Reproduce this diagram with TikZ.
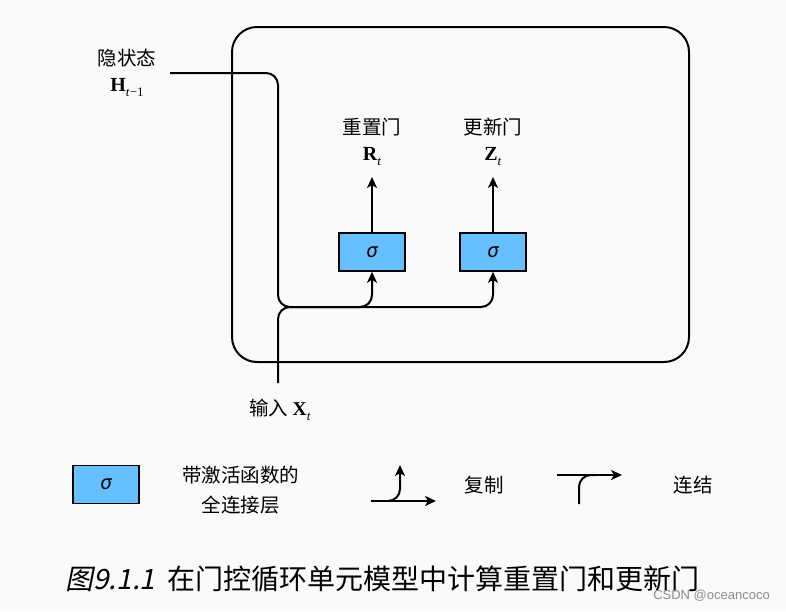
\documentclass[tikz,border=0pt]{standalone}
\usepackage{fontspec}
\setmainfont{Liberation Serif}
\newfontfamily\cjk{Noto Sans CJK SC}
\newfontfamily\cjkit[FakeSlant=0.2]{Noto Sans CJK SC}
\newfontfamily\sig{Noto Sans}
\newfontfamily\wmfont{Liberation Sans}
\usetikzlibrary{arrows.meta}
\definecolor{bgc}{HTML}{FAFAFA}
\definecolor{gatec}{HTML}{66BFFF}
\newcommand\vsub[2]{{\rmfamily\textbf{#1}\raisebox{-5pt}{\fontsize{13}{13}\selectfont #2}}}
\begin{document}
\begin{tikzpicture}[x=1pt,y=-1pt,
  wire/.style={line width=2pt, black},
  arr/.style={wire,-{Stealth[length=11pt,width=10pt,inset=3pt]}},
  gate/.style={draw, line width=1.6pt, fill=gatec, minimum width=66pt, minimum height=38pt, inner sep=0pt, font=\sig\itshape\fontsize{20}{20}\selectfont},
  cn/.style={font=\cjk\fontsize{19.5}{30}\selectfont, inner sep=0pt},
  vn/.style={font=\rmfamily\fontsize{20}{22}\selectfont, inner sep=0pt}]
\fill[bgc] (0,0) rectangle (786,611);
\useasboundingbox (0,0) rectangle (786,611);
% cell frame
\node[draw, line width=2pt, rounded corners=25pt, minimum width=457pt, minimum height=335pt, inner sep=0pt] (cell) at (460.5,194.5) {};
% gates
\node[gate] (R) at (372,252) {σ};
\node[gate] (Z) at (493,252) {σ};
\node[cn] (Rlab) at (372,127) {重置门};
\node[vn] (Rsym) at (372,157) {\vsub{R}{\textit{t}}};
\node[cn] (Zlab) at (493,127) {更新门};
\node[vn] (Zsym) at (493,157) {\vsub{Z}{\textit{t}}};
\coordinate (Rtip) at (372,177);
\coordinate (Ztip) at (493,177);
\draw[arr] (R.north) -- (Rtip);
\draw[arr] (Z.north) -- (Ztip);
% inputs
\node[cn] (hlab) at (127,58) {隐状态};
\node[vn] (hsym) at (127,88) {\vsub{H}{\textit{t}−1}};
\coordinate (hin) at (170,73);
\coordinate (xin) at (278,383);
\coordinate (hturn) at (278,73);
\coordinate (join) at (278,307);
\coordinate (rturn) at (372,307);
\coordinate (zturn) at (493,307);
\draw[arr, rounded corners=12pt] (hin) -- (hturn) -- (join) -- (rturn) -- (R.south);
\draw[arr, rounded corners=12pt] (xin) -- (join) -- (zturn) -- (Z.south);
\node[cn] (xlab) at (280,410) {输入\ \vsub{X}{\textit{t}}};
% legend
\node[gate] (lg) at (106,484.5) {σ};
\node[cn, align=center] (lgt) at (240.5,490) {带激活函数的\\全连接层};
\coordinate (ca) at (371,501);
\coordinate (cb) at (436,501);
\coordinate (cc) at (388,501);
\coordinate (cd) at (400,501);
\coordinate (ce) at (400,465);
\draw[arr] (ca) -- (cb);
\draw[arr, rounded corners=12pt] (cc) -- (cd) -- (ce);
\node[cn] (cplab) at (484,485) {复制};
\coordinate (ka) at (557,475);
\coordinate (kb) at (622,475);
\coordinate (kc) at (579,504);
\coordinate (kd) at (579,475);
\coordinate (ke) at (595,475);
\draw[arr] (ka) -- (kb);
\draw[wire, rounded corners=12pt] (kc) -- (kd) -- (ke);
\node[cn] (cclab) at (693,485) {连结};
% caption
\node[anchor=west, inner sep=0pt, font=\cjk\fontsize{28}{30}\selectfont] (cap) at (65,579) {{\cjkit 图9.1.1}\ \ 在门控循环单元模型中计算重置门和更新门};
\node[anchor=east, inner sep=0pt, font=\wmfont\fontsize{13}{13}\selectfont, text=black!45] (wm) at (770,596) {CSDN @oceancoco};
\end{tikzpicture}
\end{document}
